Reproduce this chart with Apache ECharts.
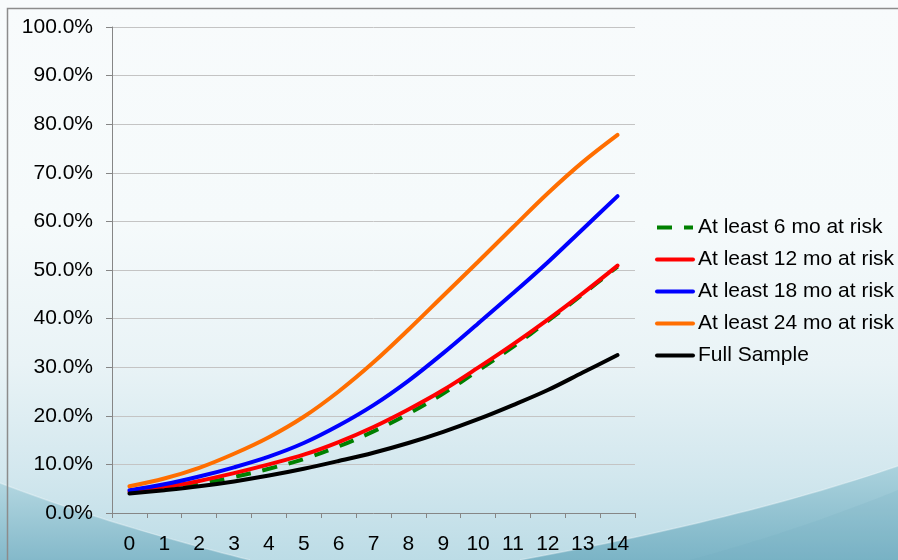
<!DOCTYPE html>
<html>
<head>
<meta charset="utf-8">
<script src="https://cdn.jsdelivr.net/npm/echarts@6/dist/echarts.min.js"></script>
<style>
  html, body { margin: 0; padding: 0; }
  #chart {
    width: 898px; height: 560px;
    background: linear-gradient(to bottom, #f8fbfc 0%, #f5fafb 40%, #e9f3f6 65%, #d2e7ee 85%, #bcdce6 100%);
  }
</style>
</head>
<body>
<div id="chart"></div>
<script>
// Months since origination (x axis)
const months = ['0','1','2','3','4','5','6','7','8','9','10','11','12','13','14'];

// Cumulative share (%) for each sample restriction
const atLeast6 = [4.2, 4.9, 6.0, 7.4, 9.1, 11.1, 13.7, 16.8, 20.4, 24.6, 29.3, 34.2, 39.5, 45.0, 50.7];
const atLeast12 = [4.4, 5.3, 6.6, 8.2, 10.0, 12.0, 14.6, 17.7, 21.3, 25.3, 29.9, 34.7, 39.8, 45.2, 50.9];
const atLeast18 = [4.7, 5.9, 7.5, 9.4, 11.6, 14.4, 18.0, 22.2, 27.2, 32.9, 39.0, 45.2, 51.6, 58.4, 65.2];
const atLeast24 = [5.5, 7.1, 9.3, 12.2, 15.6, 19.8, 25.0, 31.0, 37.7, 44.7, 51.7, 58.8, 65.8, 72.2, 77.8];
const fullSample = [4.0, 4.7, 5.5, 6.5, 7.7, 9.1, 10.7, 12.4, 14.4, 16.7, 19.3, 22.2, 25.3, 28.9, 32.5];

const seriesNames = ['At least 6 mo at risk', 'At least 12 mo at risk', 'At least 18 mo at risk', 'At least 24 mo at risk', 'Full Sample'];

const FONT = '"Liberation Sans", Arial, sans-serif';

const chart = echarts.init(document.getElementById('chart'), null, { renderer: 'canvas' });

function line(name, data, color, type) {
  return {
    name: name,
    type: 'line',
    data: data,
    smooth: 0.35,
    symbol: 'none',
    lineStyle: { color: color, width: 4, type: type || 'solid', cap: type ? 'butt' : 'round' },
    itemStyle: { color: color }
  };
}

function vgrad(top, bottom) {
  return { type: 'linear', x: 0, y: 0, x2: 0, y2: 1,
    colorStops: [{ offset: 0, color: top }, { offset: 1, color: bottom }] };
}

// points along a quadratic curve, used for the decorative backdrop bands
function quadPts(p0, c, p1, n) {
  const pts = [];
  for (let i = 0; i <= n; i++) {
    const t = i / n, u = 1 - t;
    pts.push([u * u * p0[0] + 2 * u * t * c[0] + t * t * p1[0],
              u * u * p0[1] + 2 * u * t * c[1] + t * t * p1[1]]);
  }
  return pts;
}
const leftEdge = quadPts([0, 483], [110, 525], [250, 560], 30);
const rightEdge = quadPts([520, 560], [740, 520], [898, 466], 30);
const rightInner = quadPts([690, 560], [800, 530], [898, 490], 30);

chart.setOption({
  animation: false,
  textStyle: { fontFamily: FONT },
  graphic: [
    { type: 'polygon', z: -20, silent: true,
      shape: { points: leftEdge.concat([[0, 560]]) },
      style: { fill: vgrad('#b2d6e0', '#84b9ca') } },
    { type: 'polygon', z: -20, silent: true,
      shape: { points: rightEdge.concat([[898, 560]]) },
      style: { fill: vgrad('#abd2dd', '#7bb4c6') } },
    { type: 'polygon', z: -19, silent: true,
      shape: { points: rightInner.concat([[898, 560]]) },
      style: { fill: 'rgba(110,170,190,0.15)' } },
    { type: 'polyline', z: -18, silent: true,
      shape: { points: leftEdge },
      style: { stroke: 'rgba(255,255,255,0.3)', lineWidth: 1.5, fill: null } },
    { type: 'polyline', z: -18, silent: true,
      shape: { points: rightEdge },
      style: { stroke: 'rgba(255,255,255,0.3)', lineWidth: 1.5, fill: null } },
    // chart frame
    { type: 'rect', z: -5, silent: true,
      shape: { x: 7.5, y: 8.5, width: 1000, height: 700 },
      style: { stroke: '#8c8c8c', lineWidth: 1.5, fill: null } }
  ],
  grid: { left: 112, top: 27, width: 523, bottom: 47, containLabel: false },
  legend: {
    orient: 'vertical',
    left: 655,
    top: 217,
    padding: 0,
    itemWidth: 36,
    itemHeight: 14,
    itemGap: 11,
    data: seriesNames,
    itemStyle: { opacity: 0 },
    lineStyle: { width: 4 },
    textStyle: { fontFamily: FONT, fontSize: 21, color: '#000' }
  },
  xAxis: {
    type: 'category',
    data: months,
    boundaryGap: true,
    axisLine: { lineStyle: { color: '#868686', width: 1 } },
    axisTick: { show: true, length: 5, lineStyle: { color: '#868686' } },
    axisLabel: { fontFamily: FONT, fontSize: 21, color: '#000', margin: 21 },
    splitLine: { show: false }
  },
  yAxis: {
    type: 'value',
    min: 0, max: 100, interval: 10,
    axisLine: { show: true, lineStyle: { color: '#868686', width: 1 } },
    axisTick: { show: true, length: 6, lineStyle: { color: '#868686' } },
    axisLabel: { fontFamily: FONT, fontSize: 21, color: '#000', margin: 19,
      formatter: function (v) { return v.toFixed(1) + '%'; } },
    splitLine: { show: true, lineStyle: { color: '#c4c4c4', width: 1 } }
  },
  series: [
    line(seriesNames[0], atLeast6, '#008000', [15, 12]),
    line(seriesNames[1], atLeast12, '#ff0000'),
    line(seriesNames[2], atLeast18, '#0000ff'),
    line(seriesNames[3], atLeast24, '#ff6e00'),
    line(seriesNames[4], fullSample, '#000000')
  ]
});
</script>
</body>
</html>
